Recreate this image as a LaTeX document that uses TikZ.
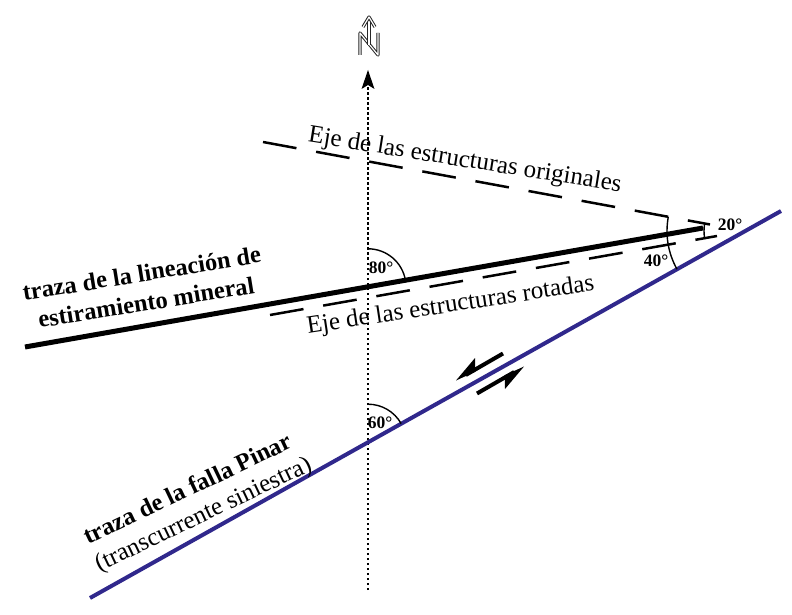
\documentclass[tikz,border=0pt]{standalone}
\usepackage{fontspec}
\setmainfont{Liberation Serif}
\usetikzlibrary{calc}
\definecolor{faultblue}{RGB}{48,40,140}
\begin{document}
\begin{tikzpicture}[x=1pt,y=1pt,
  lineation/.style={line width=5pt},
  fault/.style={line width=4pt, draw=faultblue},
  axisdash/.style={line width=2.5pt, dash pattern=on 34pt off 20pt},
  northline/.style={line width=2pt, dash pattern=on 2.5pt off 2.5pt},
  anglearc/.style={line width=1.4pt},
  biglabel/.style={font=\fontsize{25}{27}\selectfont, inner sep=0pt, anchor=base},
  boldlabel/.style={inner sep=0pt, anchor=base, font=\fontsize{24.5}{26}\selectfont\bfseries},
  anglelabel/.style={font=\fontsize{17.5}{18}\selectfont\bfseries, inner sep=0pt},
  nsym/.style={draw=black!85, double=white, double distance=1.2pt, line width=1pt, line join=round},
  harpoonhead/.style={fill=black},
  harpoonshaft/.style={line width=4pt}
]
\useasboundingbox (0,0) rectangle (792,614);

% key points
\coordinate (V) at (745,383);
\coordinate (Nbot) at (368,24);
\coordinate (Ntop) at (368,530);
\coordinate (Ntip) at (368,544);
\coordinate (Lw) at (25,267);
\coordinate (Le) at (703,386);
\coordinate (Fw) at (90,16);
\coordinate (Fe) at (781,403);
\coordinate (Ow) at (263,472);
\coordinate (Oe) at (710,389.5);
\coordinate (Rw) at (270,299);
\coordinate (Re) at (717,378);
\coordinate (C80) at (368,327.2);
\coordinate (C60) at (368,171.8);

% north line and arrow
\draw[northline] (Nbot) -- (Ntop);
\fill (Ntip) -- (361.5,525) -- (368,529) -- (374.5,525) -- cycle;

% north symbol
\draw[nsym] (360,559) -- (360,581) -- (378,559) -- (378,581);
\draw[nsym] (369,569) -- (369,597);
\draw[nsym] (363,587) -- (369,597) -- (375,587);

% axes
\draw[axisdash] (Ow) -- (Oe);
\draw[axisdash] (Rw) -- (Re);

% lineation
\draw[lineation] (Lw) -- (Le);

% fault
\draw[fault] (Fw) -- (Fe);

% angle arcs
\draw[anglearc] ($(V)+(169.5:41pt)$) arc[start angle=169.5, end angle=190, radius=41pt];
\draw[anglearc] ($(V)+(169.5:78pt)$) arc[start angle=169.5, end angle=209.3, radius=78pt];
\draw[anglearc] ($(C80)+(9.96:38pt)$) arc[start angle=9.96, end angle=90, radius=38pt];
\draw[anglearc] ($(C60)+(29.26:38pt)$) arc[start angle=29.26, end angle=90, radius=38pt];

% sinistral harpoons
\coordinate (A1) at (503,260.5);
\coordinate (T1) at (456,233.5);
\coordinate (B1) at (475,256);
\coordinate (S1) at (475.3,242.3);
\coordinate (E1) at (465.7,239);
\draw[harpoonshaft] (A1) -- (E1);
\fill[harpoonhead] (T1) -- (B1) -- (S1) -- cycle;

\coordinate (A2) at (477,220.5);
\coordinate (T2) at (524,247.5);
\coordinate (B2) at (505,225);
\coordinate (S2) at (504.7,238.7);
\coordinate (E2) at (514.3,242);
\draw[harpoonshaft] (A2) -- (E2);
\fill[harpoonhead] (T2) -- (B2) -- (S2) -- cycle;

% labels
\node[boldlabel, rotate=9.2] (lin1) at (143,332.5) {traza de la lineación de};
\node[boldlabel, rotate=9.2] (lin2) at (147.5,303.5) {estiramiento mineral};
\node[boldlabel, rotate=25.5] (fal1) at (191,118) {traza de la falla Pinar};
\node[biglabel, rotate=25.5] (fal2) at (206.2,93) {(transcurrente siniestra)};
\node[biglabel, rotate=-9.1] (orig) at (464,447) {Eje de las estructuras originales};
\node[biglabel, rotate=8.6] (rot) at (451.5,302) {Eje de las estructuras rotadas};
\node[anglelabel] (a80) at (381,346) {80°};
\node[anglelabel] (a60) at (380,191) {60°};
\node[anglelabel] (a40) at (656,353) {40°};
\node[anglelabel] (a20) at (730,389) {20°};
\end{tikzpicture}
\end{document}
